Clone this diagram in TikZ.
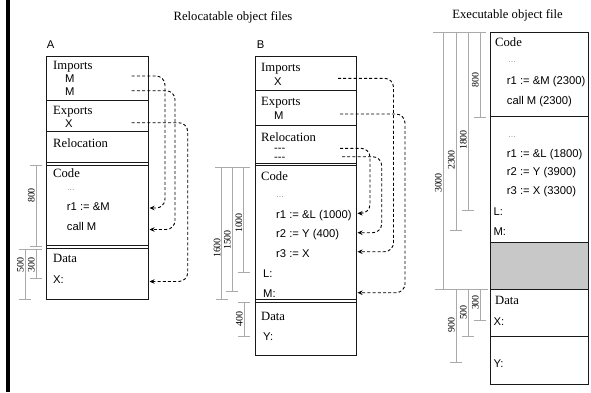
\documentclass[tikz,border=0pt]{standalone}
\usepackage{fontspec}
\setmainfont{Liberation Serif}
\newfontfamily\sansf{Liberation Sans}
\usetikzlibrary{arrows.meta}
\definecolor{dimc}{RGB}{170,170,170}
\definecolor{fillc}{RGB}{200,200,200}
\newcommand\dimv[3]{\draw[dimline] (#1-6,#2) -- (#1+6,#2) (#1,#2) -- (#1,#3) (#1-6,#3) -- (#1+6,#3);}
\begin{document}
\begin{tikzpicture}[x=1bp,y=-1bp,
  lbl/.style={anchor=base west, inner sep=0, font=\fontsize{12.7}{14}\selectfont},
  sns/.style={anchor=base west, inner sep=0, font=\sansf\fontsize{11.3}{13}\selectfont},
  relent/.style={anchor=base west, inner sep=0, font=\sansf\bfseries\fontsize{7}{7}\selectfont},
  dotsn/.style={anchor=base west, inner sep=0, font=\sansf\fontsize{8}{9}\selectfont, text=gray},
  title/.style={anchor=base, inner sep=0, font=\fontsize{12.7}{14}\selectfont},
  boxl/.style={line width=1bp, draw=black!90},
  dimline/.style={draw=dimc, line width=0.9bp},
  dimlbl/.style={rotate=90, anchor=south, inner sep=0.6bp, font=\fontsize{10}{11}\selectfont},
  conn/.style={dash pattern=on 3bp off 2.2bp, line width=0.9bp, rounded corners=9bp, -{Stealth[length=5bp,width=4.5bp]}},
]
\useasboundingbox (0,0) rectangle (591,392);
\draw[line width=3.5bp] (8,0) -- (8,392);

% titles
\node[title] (t1) at (233,20.3) {Relocatable object files};
\node[title] (t2) at (507.5,18) {Executable object file};
\node[sns] (la) at (46.7,48) {A};
\node[sns] (lb) at (256.7,48) {B};

% ---------- box A ----------
\draw[boxl] (46.5,56.5) rectangle (148,299.5);
\draw[boxl] (46.5,100.5) -- (148,100.5);
\draw[boxl] (46.5,131.5) -- (148,131.5);
\draw[boxl] (46.5,162.7) -- (148,162.7);
\draw[boxl] (46.5,165.3) -- (148,165.3);
\draw[boxl] (46.5,245.8) -- (148,245.8);
\draw[boxl] (46.5,248.3) -- (148,248.3);

\node[lbl] (aImp) at (53,69.2) {Imports};
\node[sns] (aM1) at (65,82) {M};
\node[sns] (aM2) at (65,95.7) {M};
\node[lbl] (aExp) at (53,114.2) {Exports};
\node[sns] (aX) at (65,127) {X};
\node[lbl] (aRel) at (53,147.2) {Relocation};
\node[lbl] (aCode) at (53,177.5) {Code};
\node[dotsn] (aDots) at (66.7,190) {\ldots};
\node[sns] (aR1) at (66.7,210) {r1 := \&M};
\node[sns] (aCall) at (66.7,230) {call M};
\node[lbl] (aData) at (53,262.2) {Data};
\node[sns] (aXl) at (53,283) {X:};

% dims A
\dimv{36}{165.3}{246}
\dimv{25}{249}{299.5}
\dimv{36}{249}{278}
\node[dimlbl] (aD800) at (35.5,195.5) {800};
\node[dimlbl] (aD500) at (24.5,265) {500};
\node[dimlbl] (aD300) at (35.5,265) {300};

% connectors A
\coordinate (aM1s) at (131.7,76);
\coordinate (aM2s) at (131.7,90.7);
\coordinate (aXs) at (131.7,122.7);
\coordinate (aR1e) at (149.5,208);
\coordinate (aCalle) at (149.5,229.5);
\coordinate (aXle) at (149.5,281.5);
\coordinate (vA1) at (165,0);
\coordinate (vA2) at (175,0);
\coordinate (vA3) at (187.7,0);
\draw[conn] (aM1s) -- (aM1s -| vA1) -- (aR1e -| vA1) -- (aR1e);
\draw[conn] (aM2s) -- (aM2s -| vA2) -- (aCalle -| vA2) -- (aCalle);
\draw[conn] (aXs) -- (aXs -| vA3) -- (aXle -| vA3) -- (aXle);

% ---------- box B ----------
\draw[boxl] (255,56.7) rectangle (356,355.7);
\draw[boxl] (255,90.7) -- (356,90.7);
\draw[boxl] (255,125) -- (356,125);
\draw[boxl] (255,163.3) -- (356,163.3);
\draw[boxl] (255,165.9) -- (356,165.9);
\draw[boxl] (255,299.7) -- (356,299.7);
\draw[boxl] (255,302.2) -- (356,302.2);

\node[lbl] (bImp) at (261,71.5) {Imports};
\node[sns] (bX) at (274,85.7) {X};
\node[lbl] (bExp) at (261,105) {Exports};
\node[sns] (bM) at (274,119) {M};
\node[lbl] (bRel) at (261,141.2) {Relocation};
\node[relent] (bRl1) at (274,150.6) {\scalebox{1.6}[1]{-{}-{}-}};
\node[relent] (bRl2) at (274,159.1) {\scalebox{1.6}[1]{-{}-{}-}};
\node[lbl] (bCode) at (261,180) {Code};
\node[dotsn] (bDots) at (276,197) {\ldots};
\node[sns] (bR1) at (276,218.3) {r1 := \&L (1000)};
\node[sns] (bR2) at (276,237.3) {r2 := Y (400)};
\node[sns] (bR3) at (276,257.3) {r3 := X};
\node[sns] (bL) at (263,277.3) {L:};
\node[sns] (bMl) at (263,297.3) {M:};
\node[lbl] (bData) at (261,320) {Data};
\node[sns] (bY) at (263,340.7) {Y:};

% dims B
\draw[dimline] (215,167) -- (250,167);
\dimv{221.7}{167}{299}
\dimv{232}{167}{291.7}
\dimv{243.5}{167}{272.7}
\dimv{244}{302.7}{336.7}
\node[dimlbl] (bD1600) at (221.2,248) {1600};
\node[dimlbl] (bD1500) at (231.5,240) {1500};
\node[dimlbl] (bD1000) at (243,223) {1000};
\node[dimlbl] (bD400) at (243.5,319) {400};

% connectors B
\coordinate (bXs) at (338,78.3);
\coordinate (bMs) at (340,114);
\coordinate (bRl1s) at (340,148.3);
\coordinate (bRl2s) at (342,156.7);
\coordinate (bR1e) at (357.5,213.3);
\coordinate (bR2e) at (357.5,232.7);
\coordinate (bR3e) at (357.5,251.7);
\coordinate (bMle) at (357.5,292.7);
\coordinate (vB1) at (370,0);
\coordinate (vB2) at (381.7,0);
\coordinate (vB3) at (393.5,0);
\coordinate (vB4) at (405,0);
\draw[conn] (bRl1s) -- (bRl1s -| vB1) -- (bR1e -| vB1) -- (bR1e);
\draw[conn] (bRl2s) -- (bRl2s -| vB2) -- (bR2e -| vB2) -- (bR2e);
\draw[conn] (bXs) -- (bXs -| vB3) -- (bR3e -| vB3) -- (bR3e);
\draw[conn] (bMs) -- (bMs -| vB4) -- (bMle -| vB4) -- (bMle);

% ---------- box C ----------
\fill[fillc] (490,242.3) rectangle (588,289.3);
\draw[boxl] (490,32.7) rectangle (588,384);
\draw[boxl] (490,116.7) -- (588,116.7);
\draw[boxl] (490,242.3) -- (588,242.3);
\draw[boxl] (490,289.3) -- (588,289.3);
\draw[boxl] (490,336.7) -- (588,336.7);

\node[lbl] (cCode) at (495,46) {Code};
\node[dotsn] (cDots1) at (508,62) {\ldots};
\node[sns] (cR1a) at (506.7,84) {r1 := \&M (2300)};
\node[sns] (cCall) at (506.7,104) {call M (2300)};
\node[dotsn] (cDots2) at (508,137) {\ldots};
\node[sns] (cR1b) at (506.7,157.3) {r1 := \&L (1800)};
\node[sns] (cR2) at (506.7,175.7) {r2 := Y (3900)};
\node[sns] (cR3) at (506.7,194.7) {r3 := X (3300)};
\node[sns] (cL) at (493.3,215.7) {L:};
\node[sns] (cM) at (493.3,235.7) {M:};
\node[lbl] (cData) at (495,304.2) {Data};
\node[sns] (cX) at (493.3,325.7) {X:};
\node[sns] (cY) at (493.3,367.3) {Y:};

% dims C
\draw[dimline] (433,32.7) -- (486,32.7);
\draw[dimline] (435,289.3) -- (488,289.3);
\dimv{443}{32.7}{289.3}
\dimv{456}{32.7}{230.7}
\dimv{468}{32.7}{210.7}
\dimv{480}{32.7}{117}
\dimv{456}{289.3}{362.7}
\dimv{468}{289.3}{336.7}
\dimv{480}{289.3}{320}
\node[dimlbl] (cD3000) at (442.5,183) {3000};
\node[dimlbl] (cD2300) at (455.5,160) {2300};
\node[dimlbl] (cD1800) at (467.5,140) {1800};
\node[dimlbl] (cD800) at (479.5,80) {800};
\node[dimlbl] (cD900) at (455.5,325) {900};
\node[dimlbl] (cD500) at (467.5,312.5) {500};
\node[dimlbl] (cD300) at (479.5,302.5) {300};
\end{tikzpicture}
\end{document}
